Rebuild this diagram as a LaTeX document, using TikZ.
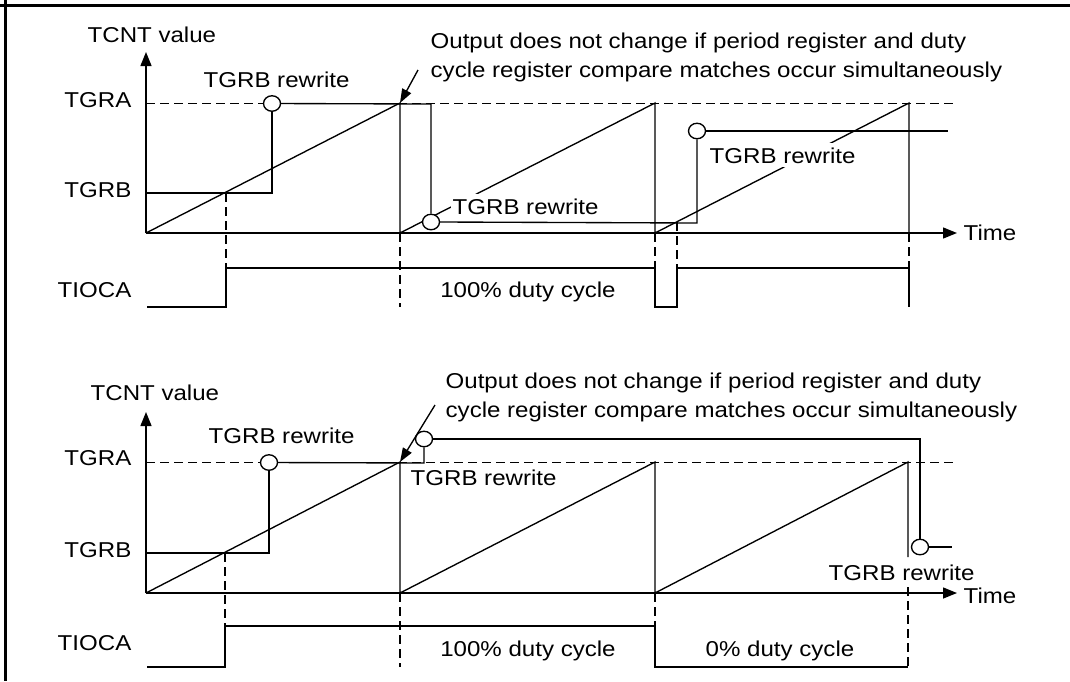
\documentclass[tikz,border=0pt]{standalone}
\usepackage{fontspec}
\setmainfont{Liberation Sans}[FakeStretch=1.12]
\usetikzlibrary{arrows.meta,shapes.geometric}
\begin{document}
\begin{tikzpicture}[x=1pt,y=-1pt,line width=1.35pt,
  lbl/.style={inner sep=0pt,font=\fontsize{21.5}{29}\selectfont},
  wlbl/.style={lbl,fill=white,inner sep=4pt},
  dsh/.style={dash pattern=on 9pt off 5pt,line width=1.1pt},
  ring/.style={draw,fill=white,ellipse,minimum width=17pt,minimum height=15.5pt,inner sep=0pt},
  axarrow/.style={-{Triangle[length=14pt,width=11pt]}},
  callout/.style={-{Triangle[length=14pt,width=10pt]}},
  frame/.style={line width=3pt}]
\useasboundingbox (0,0) rectangle (1070,681);
% frame
\coordinate (F0) at (0,5); \coordinate (F1) at (1070,5);
\coordinate (F2) at (5,0); \coordinate (F3) at (5,681);
\draw[frame] (F0) -- (F1);
\draw[frame] (F2) -- (F3);

% ================= TOP =================
\coordinate (T0) at (146,233);
\coordinate (Tyt) at (146,52);
\coordinate (Txt) at (957,233);
\coordinate (TA0) at (146,103.5); \coordinate (TA1) at (955,103.5);
\coordinate (TP1) at (400,103); \coordinate (TQ1) at (400,233);
\coordinate (TP2) at (655,103); \coordinate (TQ2) at (655,233);
\coordinate (TP3) at (909,103); \coordinate (TQ3) at (909,233);
\draw[dsh] (TA0) -- (TA1);
\draw[axarrow] (T0) -- (Tyt);
\draw[axarrow] (T0) -- (Txt);
\draw (T0) -- (TP1) -- (TQ1) -- (TP2) -- (TQ2) -- (TP3) -- (TQ3);
% TGRB register line
\node[ring] (Tc1) at (272,103.5) {};
\node[ring] (Tc2) at (431,222) {};
\node[ring] (Tc3) at (697,131) {};
\coordinate (Tb0) at (146,193);
\coordinate (Tk1) at (431,104);
\coordinate (Tk2) at (697,223);
\coordinate (Tk3) at (948,131);
\draw (Tb0) -| (Tc1);
\draw (Tc1) -- (Tk1) -- (Tc2);
\draw (Tc2.east) -- (Tk2) -- (Tc3);
\draw (Tc3) -- (Tk3);
% dashed markers
\coordinate (Td1a) at (226,193); \coordinate (Td1b) at (226,268);
\coordinate (Td2a) at (400,233); \coordinate (Td2b) at (400,307);
\coordinate (Td3a) at (655,233); \coordinate (Td3b) at (655,268);
\coordinate (Td4a) at (677,222); \coordinate (Td4b) at (677,268);
\coordinate (Td5a) at (909,233); \coordinate (Td5b) at (909,268);
\draw[dsh] (Td1a) -- (Td1b);
\draw[dsh] (Td2a) -- (Td2b);
\draw[dsh] (Td3a) -- (Td3b);
\draw[dsh] (Td4a) -- (Td4b);
\draw[dsh] (Td5a) -- (Td5b);
% TIOCA
\coordinate (Tw0) at (147,307); \coordinate (Tw1) at (226,307);
\coordinate (Tw2) at (226,268); \coordinate (Tw3) at (655,268);
\coordinate (Tw4) at (655,307); \coordinate (Tw5) at (677,307);
\coordinate (Tw6) at (677,268); \coordinate (Tw7) at (909,268);
\coordinate (Tw8) at (909,307);
\draw (Tw0) -- (Tw1) -- (Tw2) -- (Tw3) -- (Tw4) -- (Tw5) -- (Tw6) -- (Tw7) -- (Tw8);
% labels
\node[lbl,anchor=base west] (Ttcnt) at (87,42) {TCNT value};
\node[lbl,anchor=base east] (Ttgra) at (132,107) {TGRA};
\node[lbl,anchor=base east] (Ttgrb) at (132,197) {TGRB};
\node[lbl,anchor=base east] (Ttioca) at (132,297) {TIOCA};
\node[lbl,anchor=base west] (Trw1) at (203,87) {TGRB rewrite};
\node[wlbl,anchor=base west,inner xsep=2pt] (Trw2) at (450,214) {TGRB rewrite};
\node[wlbl,anchor=base west] (Trw3) at (705,163) {TGRB rewrite};
\node[lbl,anchor=base west] (Ttime) at (963,240) {Time};
\node[lbl,anchor=base] (Tduty) at (528,297) {100\% duty cycle};
\node[lbl,anchor=base west] (Tout1) at (430,48) {Output does not change if period register and duty};
\node[lbl,anchor=base west] (Tout2) at (430,77) {cycle register compare matches occur simultaneously};
\coordinate (Tar) at (418,70);
\draw[callout] (Tar) -- (TP1);

% ================= BOTTOM =================
\coordinate (B0) at (146,593);
\coordinate (Byt) at (146,412);
\coordinate (Bxt) at (957,593);
\coordinate (BA0) at (146,462.5); \coordinate (BA1) at (955,462.5);
\coordinate (BP1) at (400,462); \coordinate (BQ1) at (400,593);
\coordinate (BP2) at (655,462); \coordinate (BQ2) at (655,593);
\coordinate (BP3) at (908,462); \coordinate (BQ3) at (908,557);
\draw[dsh] (BA0) -- (BA1);
\draw[axarrow] (B0) -- (Byt);
\draw[axarrow] (B0) -- (Bxt);
\draw (B0) -- (BP1) -- (BQ1) -- (BP2) -- (BQ2) -- (BP3) -- (BQ3);
% TGRB register line
\node[ring] (Bc1) at (269,462.5) {};
\node[ring] (Bc2) at (424,439) {};
\node[ring] (Bc3) at (920,547) {};
\coordinate (Bb0) at (146,553);
\coordinate (Bk1) at (424,463);
\coordinate (Bk2) at (920,439);
\coordinate (Bk3) at (952,547);
\draw (Bb0) -| (Bc1);
\draw (Bc1) -- (Bk1) -- (Bc2);
\draw (Bc2) -- (Bk2) -- (Bc3);
\draw (Bc3) -- (Bk3);
% dashed markers
\coordinate (Bd1a) at (225,553); \coordinate (Bd1b) at (225,626);
\coordinate (Bd2a) at (400,593); \coordinate (Bd2b) at (400,667);
\coordinate (Bd3a) at (655,593); \coordinate (Bd3b) at (655,626);
\coordinate (Bd4a) at (908,587); \coordinate (Bd4b) at (908,667);
\draw[dsh] (Bd1a) -- (Bd1b);
\draw[dsh] (Bd2a) -- (Bd2b);
\draw[dsh] (Bd3a) -- (Bd3b);
\draw[dsh] (Bd4a) -- (Bd4b);
% TIOCA
\coordinate (Bw0) at (147,667); \coordinate (Bw1) at (225,667);
\coordinate (Bw2) at (225,626); \coordinate (Bw3) at (655,626);
\coordinate (Bw4) at (655,667); \coordinate (Bw5) at (908,667);
\draw (Bw0) -- (Bw1) -- (Bw2) -- (Bw3) -- (Bw4) -- (Bw5);
% labels
\node[lbl,anchor=base west] (Btcnt) at (90,400) {TCNT value};
\node[lbl,anchor=base east] (Btgra) at (132,465) {TGRA};
\node[lbl,anchor=base east] (Btgrb) at (132,557) {TGRB};
\node[lbl,anchor=base east] (Btioca) at (132,650) {TIOCA};
\node[lbl,anchor=base west] (Brw1) at (208,443) {TGRB rewrite};
\node[lbl,anchor=base west] (Brw2) at (410,485) {TGRB rewrite};
\node[lbl,anchor=base west] (Brw3) at (828,580) {TGRB rewrite};
\node[lbl,anchor=base west] (Btime) at (963,603) {Time};
\node[lbl,anchor=base] (Bduty1) at (528,656) {100\% duty cycle};
\node[lbl,anchor=base] (Bduty0) at (780,656) {0\% duty cycle};
\node[lbl,anchor=base west] (Bout1) at (445,388) {Output does not change if period register and duty};
\node[lbl,anchor=base west] (Bout2) at (445,417) {cycle register compare matches occur simultaneously};
\coordinate (Bar) at (435,405);
\draw[callout] (Bar) -- (BP1);
\end{tikzpicture}
\end{document}
